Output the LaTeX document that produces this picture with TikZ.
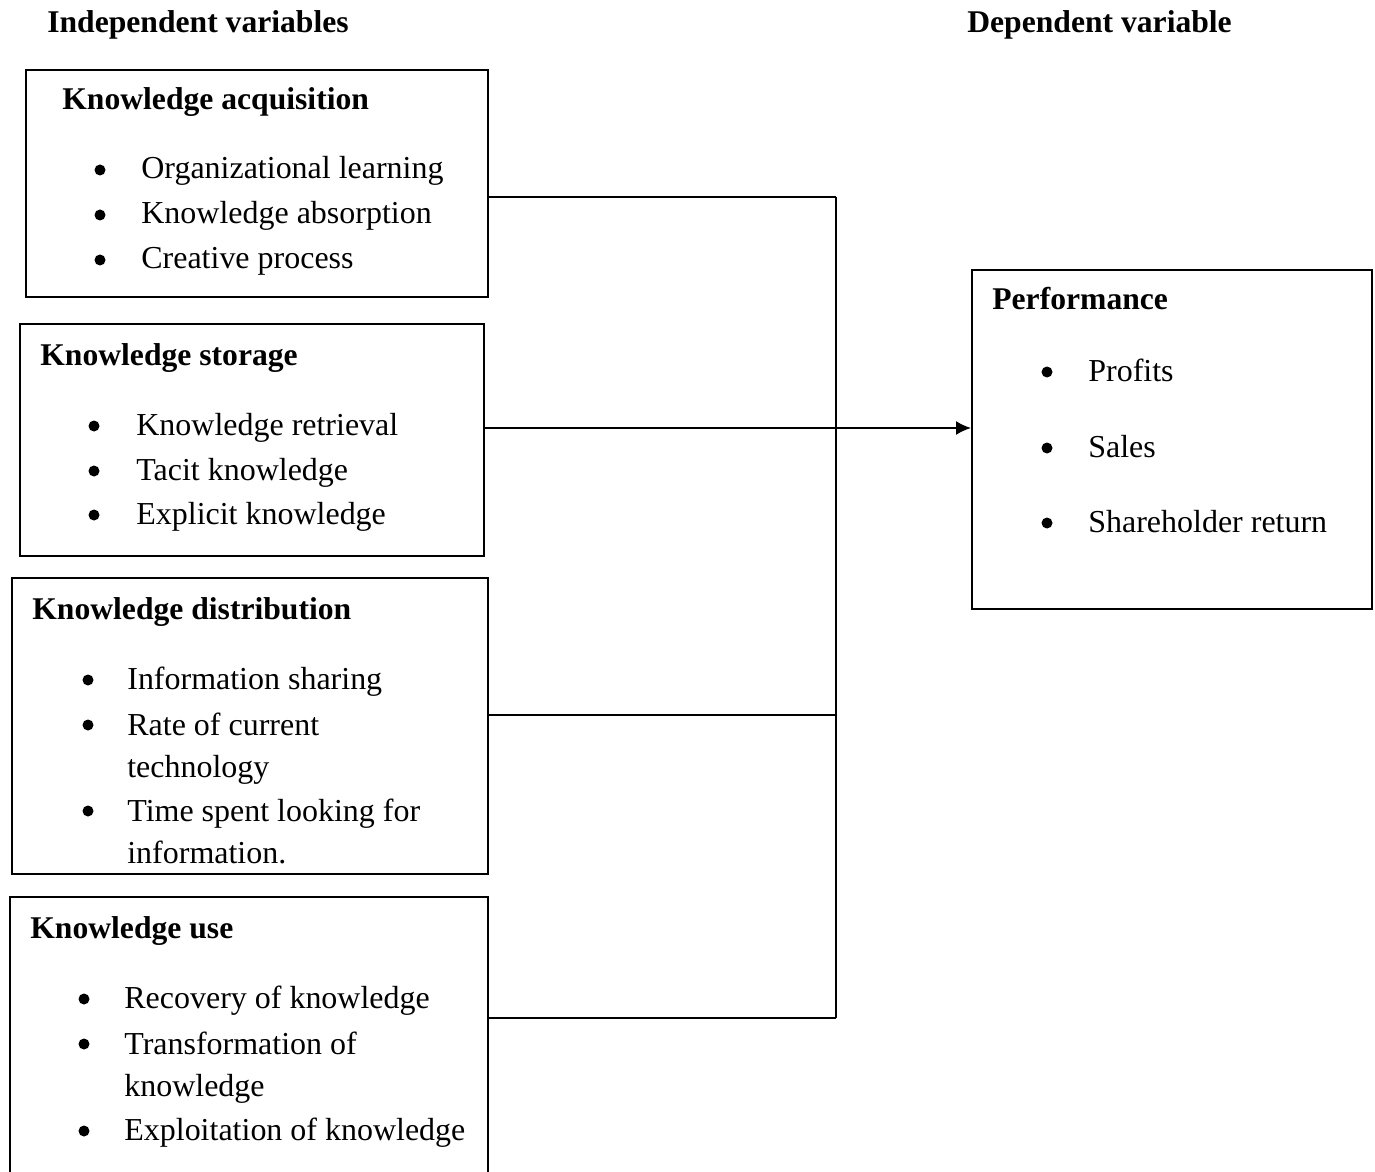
\documentclass[tikz,border=0pt]{standalone}
\usepackage{fontspec}
\setmainfont{Liberation Serif}
\usetikzlibrary{positioning,calc,arrows.meta}

\begin{document}
\begin{tikzpicture}[x=0.02cm,y=-0.02cm,
    box/.style={draw,line width=1pt,rectangle,anchor=north west,inner sep=0pt},
    head/.style={anchor=base west,inner sep=0pt,font=\bfseries\fontsize{18}{22}\selectfont},
    item/.style={anchor=base west,inner sep=0pt,align=left,font=\fontsize{18.2}{23.8}\selectfont},
    dot/.style={circle,fill,inner sep=0pt,minimum size=0.22cm},
    link/.style={line width=1pt}]
    \useasboundingbox (0,0) rectangle (1375,1172);
    \clip (0,0) rectangle (1375,1172);

    % headings
    \node[head] (indep) at (47,33) {Independent variables};
    \node[head] (dep) at (967,33) {Dependent variable};

    % independent variable boxes
    \node[box,minimum width=9.24cm,minimum height=4.54cm] (acq) at (25,69) {};
    \node[head] (acqt) at (62,110) {Knowledge acquisition};
    \node[dot] (a1) at (100,170) {}; \node[item] (a1t) at (141,179) {Organizational learning};
    \node[dot] (a2) at (100,215) {}; \node[item] (a2t) at (141,224) {Knowledge absorption};
    \node[dot] (a3) at (100,260) {}; \node[item] (a3t) at (141,269) {Creative process};

    \node[box,minimum width=9.28cm,minimum height=4.64cm] (sto) at (19,323) {};
    \node[head] (stot) at (40,365) {Knowledge storage};
    \node[dot] (s1) at (94,426) {}; \node[item] (s1t) at (136,435) {Knowledge retrieval};
    \node[dot] (s2) at (94,471) {}; \node[item] (s2t) at (136,480) {Tacit knowledge};
    \node[dot] (s3) at (94,515) {}; \node[item] (s3t) at (136,524) {Explicit knowledge};

    \node[box,minimum width=9.52cm,minimum height=5.92cm] (dis) at (11,577) {};
    \node[head] (dist) at (32,619) {Knowledge distribution};
    \node[dot] (d1) at (88,680) {}; \node[item] (d1t) at (127,689) {Information sharing};
    \node[dot] (d2) at (88,725) {}; \node[item] (d2t) at (127,777) {Rate of current\\technology}; % base = last line
    \node[dot] (d3) at (88,811) {}; \node[item] (d3t) at (127,863) {Time spent looking for\\information.};

    \node[box,minimum width=9.56cm,minimum height=6.2cm] (use) at (9,896) {}; % runs off the page
    \node[head] (uset) at (30,938) {Knowledge use};
    \node[dot] (u1) at (84,999) {}; \node[item] (u1t) at (124,1008) {Recovery of knowledge};
    \node[dot] (u2) at (84,1044) {}; \node[item] (u2t) at (124,1096) {Transformation of\\knowledge};
    \node[dot] (u3) at (84,1131) {}; \node[item] (u3t) at (124,1140) {Exploitation of knowledge};

    % dependent variable box
    \node[box,minimum width=8cm,minimum height=6.78cm] (perf) at (971,269) {};
    \node[head] (perft) at (992,310) {Performance};
    \node[dot] (p1) at (1047,372) {}; \node[item] (p1t) at (1088,381) {Profits};
    \node[dot] (p2) at (1047,448) {}; \node[item] (p2t) at (1088,457) {Sales};
    \node[dot] (p3) at (1047,523) {}; \node[item] (p3t) at (1088,532) {Shareholder return};

    % connectors
    \coordinate (j1) at (836,197);
    \coordinate (j2) at (836,428);
    \coordinate (j3) at (836,715);
    \coordinate (j4) at (836,1018);
    \draw[link] (acq.east |- j1) -- (j1);
    \draw[link] (sto.east |- j2) -- (j2);
    \draw[link] (dis.east |- j3) -- (j3);
    \draw[link] (use.east |- j4) -- (j4);
    \draw[link] (j1) -- (j4);
    \draw[link,-{Latex[length=3mm,width=2.8mm]}] (j2) -- (perf.west |- j2);
\end{tikzpicture}
\end{document}
